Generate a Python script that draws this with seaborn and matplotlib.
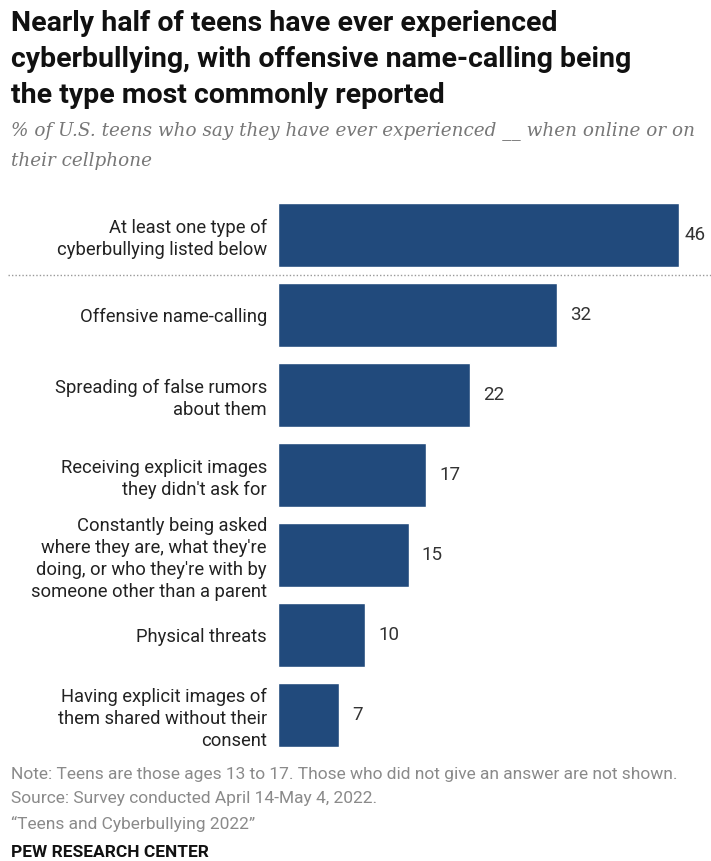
import matplotlib
matplotlib.use("Agg")
import matplotlib.pyplot as plt
import pandas as pd
import seaborn as sns

categories = [
    "At least one type of\ncyberbullying listed below",
    "Offensive name-calling",
    "Spreading of false rumors\nabout them",
    "Receiving explicit images\nthey didn't ask for",
    "Constantly being asked\nwhere they are, what they're\ndoing, or who they're with by\nsomeone other than a parent",
    "Physical threats",
    "Having explicit images of\nthem shared without their\nconsent",
]
values = [46, 32, 22, 17, 15, 10, 7]

title = ("Nearly half of teens have ever experienced\n"
         "cyberbullying, with offensive name-calling being\n"
         "the type most commonly reported")
subtitle = ("% of U.S. teens who say they have ever experienced __ when online or on\n"
            "their cellphone")
notes = ["Note: Teens are those ages 13 to 17. Those who did not give an answer are not shown.",
         "Source: Survey conducted April 14-May 4, 2022.",
         "\u201cTeens and Cyberbullying 2022\u201d"]

bar_color = "#214a7c"

sns.set_style("white")
plt.rcParams['font.family'] = ['Roboto', 'DejaVu Sans']

df = pd.DataFrame({'item': categories, 'pct': values})

fig = plt.figure(figsize=(7.11, 8.61), dpi=100)
W, H = 711, 861
ax = fig.add_axes([278 / W, 1 - 755 / H, (696.6 - 278) / W, (755 - 195) / H])

sns.barplot(data=df, y='item', x='pct', order=categories, color=bar_color,
            width=0.8, saturation=1, ax=ax)

ax.set_xlim(0, 48)
ax.set_ylim(len(categories) - 0.5, -0.5)
ax.set_xlabel('')
ax.set_ylabel('')
ax.set_xticks([])
sns.despine(ax=ax, left=True, bottom=True)
ax.tick_params(axis='y', length=0, pad=8)
for lab in ax.get_yticklabels():
    lab.set_fontsize(13.2)
    lab.set_color('#222222')
    lab.set_multialignment('right')
    lab.set_linespacing(1.3)

# value labels; the longest one sits tight against its bar to stay inside
for i, v in enumerate(values):
    ax.text(min(v + 1.5, 46.6), i, str(v), va='center', ha='left',
            fontsize=13.5, color='#333333')

# dotted separator below the summary row
fig.add_artist(plt.Line2D([8 / W, 1], [1 - 275 / H] * 2, transform=fig.transFigure,
                          color='#999999', lw=1, ls=(0, (1, 1.5))))

fig.text(11 / W, 1 - 10 / H, title, ha='left', va='top', fontsize=20.5,
         fontweight='bold', color='#111111', linespacing=1.42)
fig.text(11 / W, 1 - 121 / H, subtitle, ha='left', va='top', fontsize=13.2,
         family=['DejaVu Serif'], style='italic',
         color='#777777', linespacing=1.85)
for k, line in enumerate(notes):
    fig.text(11 / W, 1 - (767 + k * 24.5) / H, line, ha='left', va='top',
             fontsize=12.5, color='#8a8a8a')
fig.text(11 / W, 1 - 845 / H, "PEW RESEARCH CENTER", ha='left', va='top',
         fontsize=12.5, fontweight='bold', color='#111111')

fig.savefig('out.png', dpi=100)
